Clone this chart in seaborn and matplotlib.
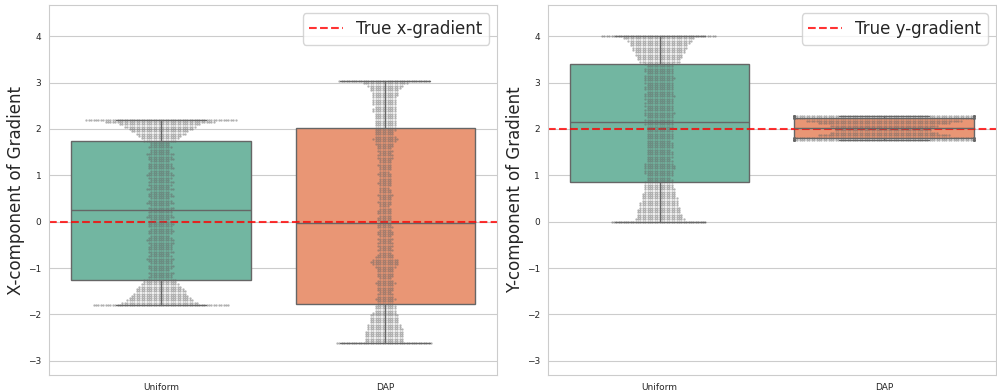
import warnings
import numpy as np
import pandas as pd
import matplotlib
matplotlib.use('Agg')
import matplotlib.pyplot as plt
import seaborn as sns

warnings.filterwarnings('ignore')

methods = ['Uniform', 'DAP']
step = 0.05

# samples per value level (low -> high)
ux_start = -1.80
ux_counts = [57, 32, 28, 26, 24, 22, 21, 20, 18, 16, 14, 14,
             10, 9, 11, 8, 10, 11, 9, 10, 12, 10, 8, 11, 10, 10, 9, 11, 12, 10, 8, 10,
             11, 9, 10, 11, 10, 8, 12, 10, 10,
             9, 11, 8, 12, 10, 8, 11, 10, 8, 12, 8, 10, 11, 8, 10, 12, 10, 8, 11, 10,
             10, 8, 11, 10, 12, 8, 8, 10, 8, 8,
             14, 16, 18, 21, 24, 27, 30, 34, 46, 63]

dx_start = -2.62
dx_counts = [40, 16, 16, 16, 16, 16, 15, 14, 14, 12, 12, 12, 12, 10, 9, 9, 9,
             7, 7, 9, 7, 7, 5, 7, 7, 7, 9, 7, 5, 7, 7, 7, 7, 9, 11, 12, 11,
             8, 7, 5, 7, 5, 7, 7, 5, 7, 5, 7, 7, 5, 7, 6,
             5, 6, 6, 5, 6, 6, 5, 4, 5, 6, 5, 5, 7, 5, 5, 4, 5, 6, 5, 5,
             5, 6, 4, 5, 5, 6, 5, 5, 7, 7, 5, 7, 6, 7, 8, 9, 11, 9, 8, 8, 9,
             9, 9, 9, 9, 9, 9, 9, 10, 10, 9, 10, 10, 10, 10, 11, 11, 12, 13, 15, 19, 38]

uy_start = 0.00
uy_counts = [40, 21, 19, 19, 18, 18, 17, 16, 16, 15, 15, 14, 14, 13, 13, 12, 12,
             12, 11, 10, 11, 12, 12, 13, 13, 12, 11, 10, 11, 11, 11, 10, 11, 11, 11,
             10, 11, 11, 11, 11, 10, 11, 12, 11,
             12, 11, 12, 13, 12, 11, 12, 12, 11, 12, 13, 12, 11, 12, 12, 11, 12, 12,
             13, 12, 11, 12, 12, 11, 12,
             17, 18, 19, 20, 21, 22, 23, 24, 25, 27, 30, 48]

dy_start = 1.76
dy_step = 0.052
dy_counts = [100, 90, 55, 45, 40, 40, 45, 55, 65, 90, 100]

true_x = 0.0
true_y = 2.0


def expand(start, counts, st=step):
    levels = np.round(start + st * np.arange(len(counts)), 3)
    return np.repeat(levels, counts)


def make_df(uniform, dap):
    return pd.DataFrame({
        'method': ['Uniform'] * len(uniform) + ['DAP'] * len(dap),
        'grad': np.concatenate([uniform, dap]),
    })


df_x = make_df(expand(ux_start, ux_counts), expand(dx_start, dx_counts))
df_y = make_df(expand(uy_start, uy_counts), expand(dy_start, dy_counts, dy_step))

sns.set_style('whitegrid')

fig, axes = plt.subplots(1, 2, figsize=(9.97, 3.92), dpi=100)
plt.subplots_adjust(left=0.049, right=0.999, top=0.987, bottom=0.043, wspace=0.112)

panels = [(axes[0], df_x, true_x, 'True x-gradient', 'X-component of Gradient'),
          (axes[1], df_y, true_y, 'True y-gradient', 'Y-component of Gradient')]

for ax, df, true_val, lab, ylab in panels:
    sns.boxplot(data=df, x='method', y='grad', hue='method', order=methods,
                palette='Set2', showfliers=False, linewidth=1, linecolor='.4',
                legend=False, ax=ax)
    sns.swarmplot(data=df, x='method', y='grad', order=methods, color='.4',
                  alpha=0.5, size=1.65, ax=ax)
    ax.axhline(true_val, color='red', linestyle='--', linewidth=1.5, alpha=0.8, label=lab)
    ax.set_ylim(-3.31, 4.67)
    ax.set_yticks(range(-3, 5))
    ax.set_xlabel('')
    ax.set_ylabel(ylab, fontsize=12, labelpad=2)
    ax.tick_params(axis='both', labelsize=6.5, pad=2)
    ax.legend(loc='upper right', fontsize=12)

fig.savefig('out.png', dpi=100)
plt.close()
